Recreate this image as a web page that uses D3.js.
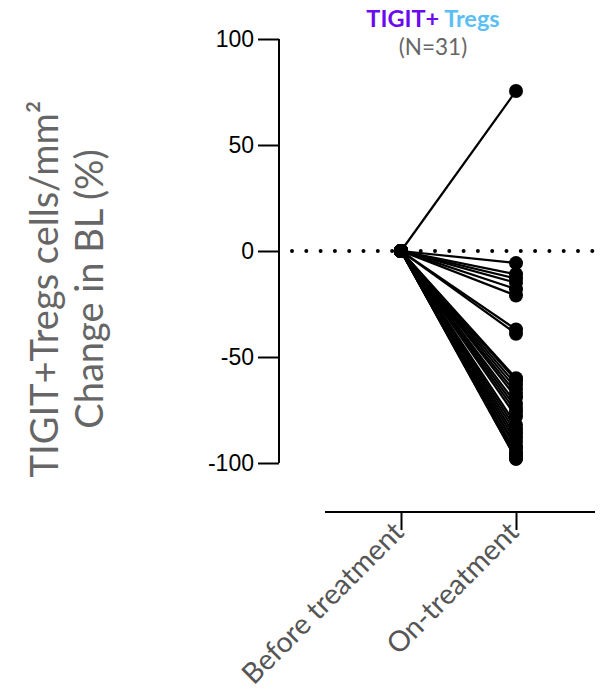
<!DOCTYPE html>
<html><head><meta charset="utf-8">
<script src="https://cdn.jsdelivr.net/npm/d3@7/dist/d3.min.js"></script>
<style>body{margin:0;background:#fff}</style>
</head><body>
<svg id="chart" width="602" height="691"></svg>
<script>
const categories = ["Before treatment", "On-treatment"];
const beforeValues = new Array(31).fill(0);
const onValues = [75.5, -5.7, -11, -13, -15, -18, -21, -37, -39,
  -60, -61, -63, -65, -67, -69, -72, -74, -76, -78, -82, -84, -86, -88, -90, -92, -93, -95, -96, -97, -98, -98];
const yTicks = [100, 50, 0, -50, -100];
const yTickLabels = ["100", "50", "0", "-50", "-100"];

const svg = d3.select("#chart");
const y = d3.scaleLinear().domain([-100, 100]).range([463, 39]);
const x = d3.scalePoint().domain(categories).range([401, 516]);
const geo = "Lato, 'Open Sans', sans-serif";

// y axis
const yAxis = svg.append("g").attr("transform", "translate(279,0)")
  .call(d3.axisLeft(y).tickValues(yTicks).tickSize(21).tickPadding(4)
    .tickFormat((d, i) => yTickLabels[i]));
yAxis.select(".domain").attr("stroke", "#000").attr("stroke-width", 2).attr("d", "M0,39V463");
yAxis.selectAll(".tick line").attr("stroke", "#000").attr("stroke-width", 2);
yAxis.selectAll(".tick text").attr("font-family", "Liberation Sans, Arial, sans-serif")
  .attr("font-size", 23).attr("fill", "#000");

// x axis
const xAxis = svg.append("g").attr("transform", "translate(0,512)")
  .call(d3.axisBottom(x).tickSize(18).tickPadding(6));
xAxis.select(".domain").attr("stroke", "#000").attr("stroke-width", 2).attr("d", "M325,0H595");
xAxis.selectAll(".tick line").attr("stroke", "#000").attr("stroke-width", 2);
xAxis.selectAll(".tick text")
  .attr("font-family", geo).attr("font-size", 28.5).attr("fill", "#555")
  .attr("text-anchor", "end").attr("x", 0).attr("y", 0).attr("dy", 0)
  .attr("transform", "translate(4,22) rotate(-45)");

// dotted zero line
svg.append("line").attr("x1", 292).attr("x2", 595)
  .attr("y1", y(0)).attr("y2", y(0))
  .attr("stroke", "#000").attr("stroke-width", 4).attr("stroke-linecap", "round")
  .attr("stroke-dasharray", "0,14.3");

// lines
const pairs = onValues.map((v, i) => [beforeValues[i], v]);
svg.append("g").selectAll("line").data(pairs).join("line")
  .attr("x1", x(categories[0])).attr("y1", d => y(d[0]))
  .attr("x2", x(categories[1])).attr("y2", d => y(d[1]))
  .attr("stroke", "#000").attr("stroke-width", 2.2);

// points
svg.append("g").selectAll("circle").data(beforeValues).join("circle")
  .attr("cx", x(categories[0])).attr("cy", d => y(d)).attr("r", 7).attr("fill", "#000");
svg.append("g").selectAll("circle").data(onValues).join("circle")
  .attr("cx", x(categories[1])).attr("cy", d => y(d)).attr("r", 7).attr("fill", "#000");

// title
const t = svg.append("text").attr("x", 433).attr("y", 27).attr("text-anchor", "middle")
  .attr("font-family", geo).attr("font-weight", "bold").attr("font-size", 23.5);
t.append("tspan").attr("fill", "#6b0af0").text("TIGIT+ ");
t.append("tspan").attr("fill", "#5bbff5").text("Tregs");
svg.append("text").attr("x", 433).attr("y", 55).attr("text-anchor", "middle")
  .attr("font-family", geo).attr("font-size", 22.5).attr("fill", "#666")
  .text("(N=31)");

// y label
const yl = svg.append("text").attr("transform", "translate(0,289) rotate(-90)")
  .attr("text-anchor", "middle").attr("font-family", geo)
  .attr("font-size", 38).attr("fill", "#666");
yl.append("tspan").attr("x", 0).attr("y", 58).text("TIGIT+Tregs cells/mm²");
yl.append("tspan").attr("x", 0).attr("y", 103).text("Change in BL (%)");
</script>
</body></html>
